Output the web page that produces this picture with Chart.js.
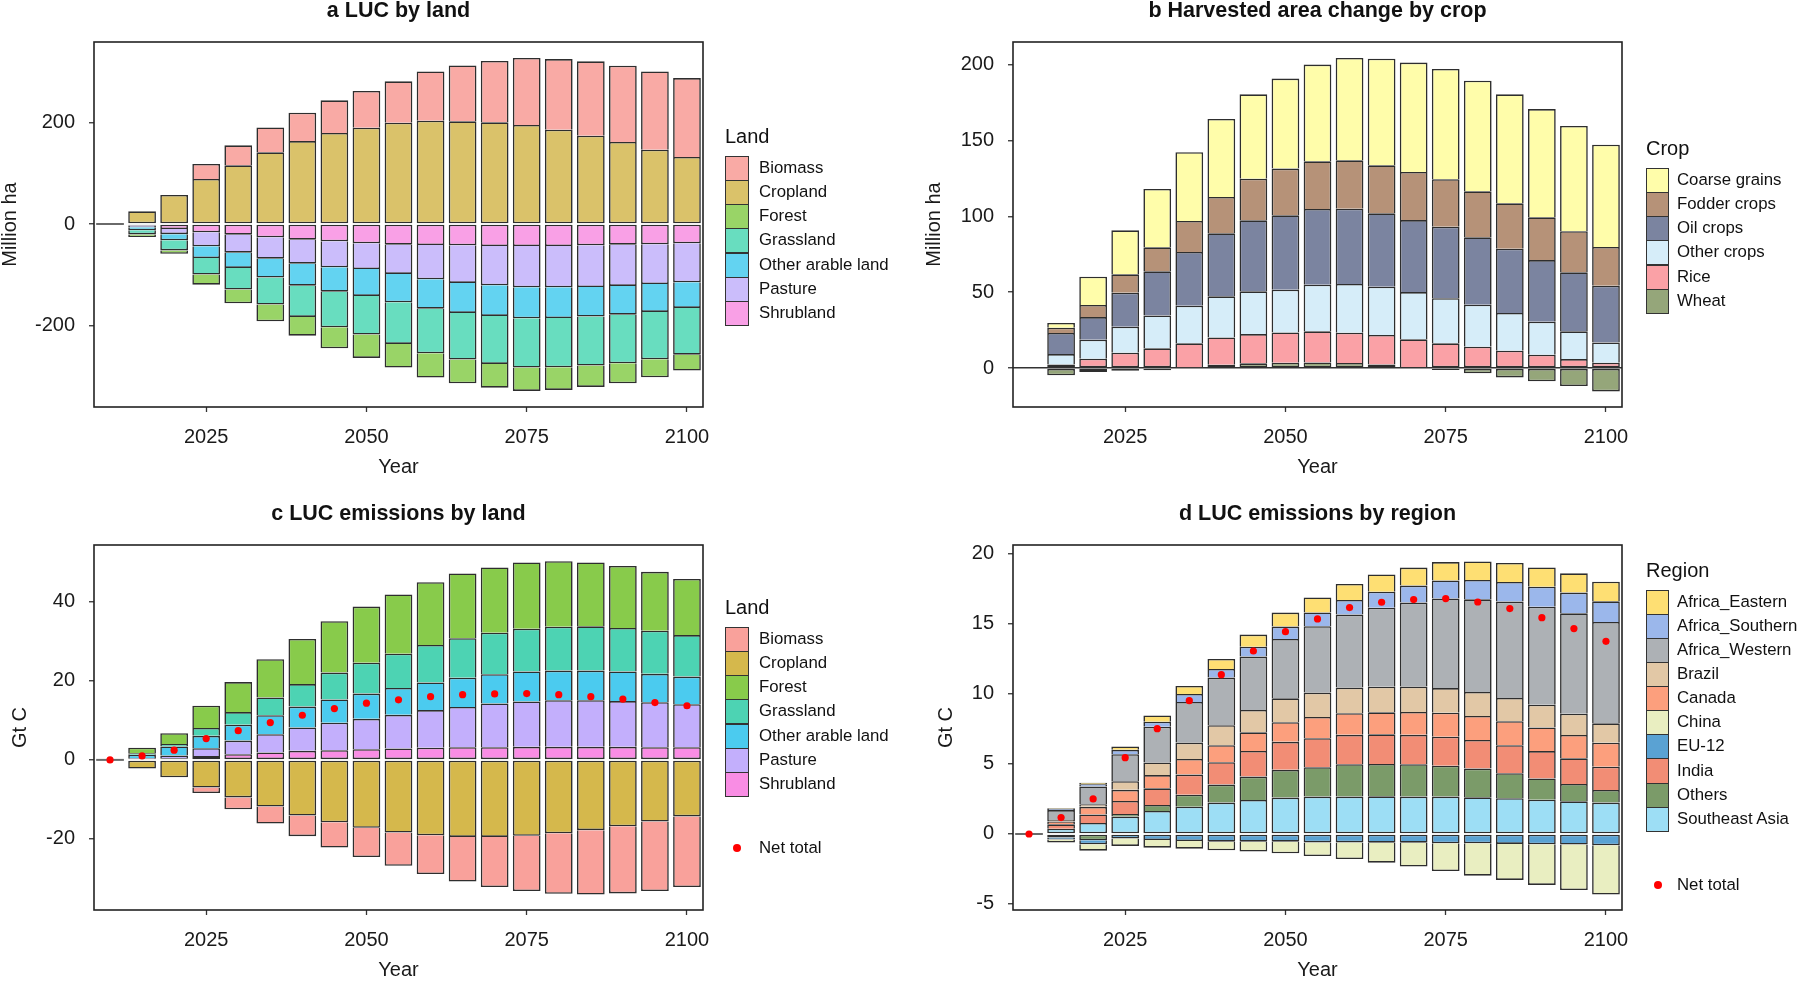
<!DOCTYPE html>
<html>
<head>
<meta charset="utf-8">
<script src="https://cdn.jsdelivr.net/npm/chart.js@4.4.1/dist/chart.umd.min.js"></script>
<style>
  body { margin: 0; background: #fff; width: 1800px; height: 981px; overflow: hidden; position: relative;
         font-family: "Liberation Sans", Arial, sans-serif; color: #111; }
  canvas { position: absolute; }
  .ttl { position: absolute; font-weight: bold; font-size: 21.5px; line-height: 1; white-space: nowrap; transform: translate(-50%, -50%); }
  .lt { position: absolute; font-size: 20px; line-height: 1; transform: translateY(-50%); }
  .lbox { position: absolute; box-sizing: border-box; border: 1.3px solid #333; }
  .llab { position: absolute; font-size: 16.8px; line-height: 1; white-space: nowrap; transform: translateY(-50%); }
  .ldot { position: absolute; width: 8px; height: 8px; border-radius: 50%; background: #ff0000; transform: translate(-50%, -50%); }
</style>
</head>
<body>
<script>
// ---- data ----
const years = [2010, 2015, 2020, 2025, 2030, 2035, 2040, 2045, 2050, 2055, 2060, 2065, 2070, 2075, 2080, 2085, 2090, 2095, 2100];
const xTickYears = [2025, 2050, 2075, 2100];

// a  LUC by land (Million ha)
const aBiomass     = [null, 0, 0, 29.5, 39.3, 49, 55.8, 64.2, 72.2, 81.3, 97, 110.1, 120.6, 131.8, 139, 146.2, 150.1, 154, 155.3];
const aCropland    = [null, 25, 57, 88.5, 115.4, 141, 163.2, 179, 189.4, 199.3, 203.2, 201.9, 200, 194.7, 185.5, 173.7, 161.3, 146.2, 131.8];
const aForest      = [null, -5, -6.5, -19.7, -26.9, -32.8, -36.7, -41.3, -45.9, -46.5, -47.9, -46.5, -46.6, -45.9, -44.6, -42, -39.3, -35.4, -31.4];
const aGrassland   = [null, -8, -20, -32.7, -42.6, -53.1, -61.6, -70.1, -76, -82, -87.8, -91.8, -94.4, -97, -97, -96.4, -95.7, -93.1, -91.8];
const aOtherArable = [null, -6, -12, -23, -30.1, -37.3, -43.3, -47.9, -53.1, -55.7, -57.7, -59, -60.3, -61, -60.4, -58.3, -56.4, -55, -50.5];
const aPasture     = [null, -3.5, -10, -27.5, -35.4, -42, -47.2, -51.1, -50.5, -57.7, -67.5, -74, -77.3, -81.2, -81.2, -81.9, -81.3, -78, -76.7];
const aShrubland   = [null, -3, -10, -16.4, -21, -26.2, -30.8, -34.1, -38, -40.6, -41.3, -42, -43.3, -43.3, -43.3, -42, -40.6, -40, -38];
const aTicks = [-200, 0, 200];

// b  Harvested area change by crop (Million ha)
const bCoarse = [null, 3.1, 18.6, 29, 38.5, 45.3, 51.5, 55.6, 59.4, 63.8, 67.5, 70.3, 72.1, 72.7, 73, 71.9, 71.4, 69.4, 67.5];
const bFodder = [null, 3.5, 8, 12.1, 15.8, 20.5, 24, 27.5, 30.8, 31.4, 31.9, 31.7, 31.7, 31.3, 30.3, 29.9, 28.2, 27.1, 25.5];
const bOil    = [null, 13.9, 14.9, 22.4, 29.1, 35.4, 41.5, 46.8, 49, 49.9, 49.7, 48.4, 47.5, 47.2, 44.4, 42.4, 40.6, 38.9, 37.4];
const bOther  = [null, 6.8, 12.5, 17.2, 21.7, 24.8, 27.1, 28.2, 28.2, 30.8, 32.1, 31.8, 31.2, 29.7, 27.7, 24.9, 21.8, 18.3, 13.4];
const bRice   = [null, 2.4, 6.2, 10.1, 13, 15.8, 18, 19.3, 20, 20.5, 20, 19.4, 18.2, 16.3, 14.1, 11.4, 8.8, 5.9, 3.5];
const bWheat  = [null, -4.8, -2.6, -1.8, -1.5, 0.5, 2.2, 3.1, 3.5, 3.7, 3.3, 2.4, 0.7, -1.3, -3.5, -6.2, -8.8, -11.9, -15.4];
const bTicks = [0, 50, 100, 150, 200];

// c  LUC emissions by land (Gt C)
const cBiomass     = [null, 0, 0, -1.4, -3, -4.3, -5.2, -6.4, -7.4, -8.4, -9.8, -11.3, -12.7, -14, -15.3, -16.3, -17, -17.6, -17.9];
const cCropland    = [null, -2.2, -4.4, -7, -9.5, -11.8, -14.1, -15.8, -17.2, -18.4, -19.1, -19.5, -19.5, -19.2, -18.6, -17.8, -16.8, -15.6, -14.3];
const cForest      = [null, 1.4, 2.7, 5.6, 7.6, 9.7, 11.4, 13, 14.2, 15, 15.9, 16.4, 16.5, 16.8, 16.6, 16.2, 15.7, 14.9, 14.2];
const cGrassland   = [null, 0.4, 0.65, 2, 3.2, 4.5, 5.7, 6.8, 7.8, 8.7, 9.5, 10, 10.5, 10.8, 11.1, 11.2, 11, 10.9, 10.5];
const cOtherArable = [null, 0.9, 2.3, 3.15, 4, 4.8, 5.3, 5.9, 6.4, 6.8, 7, 7.4, 7.4, 7.6, 7.5, 7.5, 7.5, 7.2, 7];
const cPasture     = [null, 0.2, 0.7, 1.95, 3.45, 4.6, 5.9, 6.95, 7.7, 8.5, 9.5, 10.2, 11.1, 11.5, 11.8, 11.8, 11.6, 11.4, 10.9];
const cShrubland   = [null, 0.2, 0.4, 1, 1.45, 1.9, 2.3, 2.45, 2.7, 2.9, 3.1, 3.2, 3.2, 3.3, 3.3, 3.3, 3.3, 3.2, 3.2];
const cNet         = [0, 1, 2.45, 5.4, 7.4, 9.45, 11.3, 13, 14.35, 15.2, 16, 16.5, 16.7, 16.8, 16.5, 16, 15.4, 14.5, 13.7];
const cTicks = [-20, 0, 20, 40];

// d  LUC emissions by region (Gt C)
const dAfricaEastern  = [null, 0.05, 0.1, 0.24, 0.45, 0.57, 0.71, 0.86, 1, 1.07, 1.14, 1.24, 1.29, 1.31, 1.33, 1.36, 1.38, 1.38, 1.4];
const dAfricaSouthern = [null, 0.07, 0.17, 0.31, 0.36, 0.57, 0.62, 0.71, 0.88, 0.98, 1.05, 1.14, 1.21, 1.29, 1.38, 1.4, 1.43, 1.48, 1.48];
const dAfricaWestern  = [null, 0.71, 1.26, 1.93, 2.55, 2.9, 3.4, 3.81, 4.24, 4.74, 5.21, 5.64, 6, 6.4, 6.62, 6.88, 7, 7.17, 7.24];
const dBrazil         = [null, 0.1, 0.19, 0.62, 0.9, 1.17, 1.43, 1.6, 1.71, 1.74, 1.83, 1.83, 1.81, 1.76, 1.71, 1.67, 1.62, 1.52, 1.38];
const dCanada         = [null, 0.21, 0.55, 0.79, 0.95, 1.12, 1.21, 1.33, 1.4, 1.52, 1.55, 1.57, 1.64, 1.71, 1.71, 1.71, 1.69, 1.67, 1.71];
const dChina          = [null, -0.21, -0.45, -0.52, -0.55, -0.55, -0.62, -0.71, -0.83, -0.98, -1.19, -1.43, -1.71, -1.98, -2.31, -2.57, -2.9, -3.24, -3.52];
const dEU12           = [null, -0.14, -0.29, -0.33, -0.43, -0.5, -0.55, -0.55, -0.55, -0.6, -0.6, -0.62, -0.62, -0.67, -0.67, -0.71, -0.74, -0.76, -0.81];
const dIndia          = [null, 0.31, 0.6, 0.93, 1.19, 1.43, 1.6, 1.83, 2, 2.07, 2.1, 2.12, 2.1, 2.07, 2.05, 2, 1.95, 1.83, 1.67];
const dOthers         = [null, -0.26, -0.45, 0.19, 0.43, 0.86, 1.29, 1.67, 1.98, 2.1, 2.31, 2.31, 2.31, 2.21, 2.05, 1.79, 1.52, 1.24, 0.9];
const dSoutheastAsia  = [null, 0.38, 0.79, 1.24, 1.64, 1.95, 2.24, 2.43, 2.6, 2.67, 2.67, 2.69, 2.67, 2.67, 2.62, 2.55, 2.45, 2.33, 2.24];
const dNet            = [0, 1.17, 2.5, 5.45, 7.52, 9.52, 11.38, 13.07, 14.45, 15.36, 16.17, 16.55, 16.74, 16.81, 16.57, 16.1, 15.45, 14.67, 13.76];
const dTicks = [-5, 0, 5, 10, 15, 20];

// zero-height bar at 2010 (drawn as a short segment)
const base2010 = [0, null, null, null, null, null, null, null, null, null, null, null, null, null, null, null, null, null, null];

const landNames = ['Biomass', 'Cropland', 'Forest', 'Grassland', 'Other arable land', 'Pasture', 'Shrubland'];
const cropNames = ['Coarse grains', 'Fodder crops', 'Oil crops', 'Other crops', 'Rice', 'Wheat'];
const regionNames = ['Africa_Eastern', 'Africa_Southern', 'Africa_Western', 'Brazil', 'Canada', 'China', 'EU-12', 'India', 'Others', 'Southeast Asia'];

// ---- drawing ----
const FONT = '"Liberation Sans", Arial, sans-serif';
const INK = '#1a1a1a';

const plotBox = {
  id: 'plotBox',
  afterDraw(chart) {
    const { ctx, chartArea: a } = chart;
    ctx.save();
    ctx.strokeStyle = '#222';
    ctx.lineWidth = 1.6;
    ctx.strokeRect(a.left, a.top, a.right - a.left, a.bottom - a.top);
    ctx.restore();
  }
};

// only the segment touching zero keeps its base edge; the rest rely on the
// neighbour's far edge so separators are a single line
function skipBase(c) {
  const i = c.dataIndex, v = c.dataset.data[i];
  const ds = c.chart.data.datasets;
  for (let j = 0; j < c.datasetIndex; j++) {
    const w = ds[j].data[i];
    if (ds[j].stack === 's' && w && Math.sign(w) === Math.sign(v)) return 'start';
  }
  return false;
}

function makeChart(p) {
  const cv = document.createElement('canvas');
  cv.width = p.w; cv.height = p.h;
  cv.style.left = p.x + 'px'; cv.style.top = p.y + 'px';
  document.body.appendChild(cv);

  const datasets = [];
  // last legend entry sits next to zero, so stack in reverse legend order
  for (let i = p.names.length - 1; i >= 0; i--) {
    datasets.push({
      label: p.names[i], data: p.values[i], backgroundColor: p.colors[i],
      borderColor: '#2e2e2e', borderWidth: 1.6, borderSkipped: skipBase,
      stack: 's', barPercentage: 0.865, categoryPercentage: 1
    });
  }
  if (p.base) {
    datasets.push({ label: 'base', data: p.base, backgroundColor: '#6a6a6a', borderWidth: 0,
      minBarLength: 2, stack: 's', barPercentage: 0.865, categoryPercentage: 1 });
  }
  if (p.net) {
    datasets.push({ type: 'line', label: 'Net total', data: p.net, showLine: false, stack: 'net', order: -1,
      pointRadius: 3.6, pointBackgroundColor: '#ff0000', pointBorderWidth: 0, pointHoverRadius: 3.6 });
  }

  new Chart(cv, {
    type: 'bar',
    data: { labels: years, datasets },
    options: {
      responsive: false, animation: false,
      layout: { padding: { top: p.padTop, right: p.w - p.plotRight, left: 0, bottom: 0 } },
      plugins: { legend: { display: false }, tooltip: { enabled: false } },
      scales: {
        x: {
          stacked: true, offset: true,
          grid: { offset: false, drawOnChartArea: false, tickLength: 5, tickWidth: 1.3,
                  color: c => xTickYears.includes(years[c.index]) ? '#333' : 'rgba(0,0,0,0)' },
          border: { display: false },
          ticks: { autoSkip: false, maxRotation: 0, padding: 13, color: INK, font: { family: FONT, size: 20 },
                   callback: (v, i) => xTickYears.includes(years[i]) ? String(years[i]) : '' },
          title: { display: true, text: 'Year', color: INK, font: { family: FONT, size: 20, lineHeight: 1 },
                   padding: { top: 0, bottom: p.xTitlePad } },
          afterFit: s => { s.height = p.xAxisH; s.paddingLeft = 0; s.paddingRight = 0; }
        },
        y: {
          stacked: true, min: p.yMin, max: p.yMax,
          grid: { drawOnChartArea: !!p.zeroLine, tickLength: 5, tickWidth: 1.3, lineWidth: 1.5, tickColor: '#333',
                  color: c => (p.zeroLine && c.tick && c.tick.value === 0) ? '#333' : 'rgba(0,0,0,0)' },
          border: { display: false },
          ticks: { padding: 14, color: INK, font: { family: FONT, size: 20 }, callback: v => String(v) },
          afterBuildTicks: s => { s.ticks = p.yTicks.map(v => ({ value: v })); },
          title: { display: true, text: p.yTitle, color: INK, font: { family: FONT, size: 20, lineHeight: 1 },
                   padding: { top: p.yTitlePad, bottom: 0 } },
          afterFit: s => { s.width = 94; s.paddingTop = 0; s.paddingBottom = 0; }
        }
      }
    },
    plugins: [plotBox]
  });
}

function addText(cls, txt, x, y) {
  const d = document.createElement('div');
  d.className = cls; d.textContent = txt;
  d.style.left = x + 'px'; d.style.top = y + 'px';
  document.body.appendChild(d);
  return d;
}

function addLegend(l) {
  addText('lt', l.title, l.x, l.titleY);
  l.names.forEach((n, i) => {
    const b = document.createElement('div');
    b.className = 'lbox';
    b.style.left = l.x + 'px'; b.style.top = (l.top + i * l.step) + 'px';
    b.style.width = l.bw + 'px'; b.style.height = (l.step + 1) + 'px';
    b.style.background = l.colors[i];
    document.body.appendChild(b);
    addText('llab', n, l.labX, l.top + i * l.step + l.step / 2);
  });
  if (l.netY) {
    const d = document.createElement('div');
    d.className = 'ldot';
    d.style.left = (l.x + l.bw / 2) + 'px'; d.style.top = l.netY + 'px';
    document.body.appendChild(d);
    addText('llab', 'Net total', l.labX, l.netY);
  }
}

const landColsA = ['#F9AAA5', '#DAC26A', '#99D467', '#68DDBF', '#63D3F1', '#CBBDFB', '#F9A0E6'];
const cropCols = ['#FFFDAA', '#B69278', '#7B84A0', '#D6EDF9', '#FAA1A6', '#95A67A'];
const landColsC = ['#F9A19B', '#D5B84C', '#88CB4B', '#4DD3B3', '#4BCBEF', '#C3AFFC', '#F98DE4'];
const regionCols = ['#FEDF73', '#9BB7EB', '#ADB1B5', '#E2C8A6', '#FC9F7D', '#E9EEC1', '#5AA2D3', '#F28D75', '#7B9B69', '#9DDEF5'];

// panel a
makeChart({ x: 0, y: 0, w: 730, h: 490, plotRight: 703, padTop: 42, xAxisH: 83, xTitlePad: 13, yTitlePad: 0,
  yMin: -360, yMax: 358, yTicks: aTicks, yTitle: 'Million ha', base: base2010,
  names: landNames, colors: landColsA,
  values: [aBiomass, aCropland, aForest, aGrassland, aOtherArable, aPasture, aShrubland] });
addText('ttl', 'a LUC by land', 398.5, 11);
addLegend({ title: 'Land', x: 725, titleY: 136, top: 155.7, step: 24.2, bw: 24, labX: 759, names: landNames, colors: landColsA });

// panel b
makeChart({ x: 919, y: 0, w: 730, h: 490, plotRight: 703, padTop: 42, xAxisH: 83, xTitlePad: 13, yTitlePad: 5,
  yMin: -25.7, yMax: 215, yTicks: bTicks, yTitle: 'Million ha', zeroLine: true,
  names: cropNames, colors: cropCols,
  values: [bCoarse, bFodder, bOil, bOther, bRice, bWheat] });
addText('ttl', 'b Harvested area change by crop', 1317.5, 11);
addLegend({ title: 'Crop', x: 1646, titleY: 148, top: 167.7, step: 24.2, bw: 23, labX: 1677, names: cropNames, colors: cropCols });

// panel c
makeChart({ x: 0, y: 490, w: 730, h: 491, plotRight: 703, padTop: 55, xAxisH: 71, xTitlePad: 1, yTitlePad: 10,
  yMin: -38, yMax: 54.4, yTicks: cTicks, yTitle: 'Gt C', base: base2010, net: cNet,
  names: landNames, colors: landColsC,
  values: [cBiomass, cCropland, cForest, cGrassland, cOtherArable, cPasture, cShrubland] });
addText('ttl', 'c LUC emissions by land', 398.5, 514);
addLegend({ title: 'Land', x: 725, titleY: 606.7, top: 626.7, step: 24.2, bw: 24, labX: 759, names: landNames, colors: landColsC, netY: 848.3 });

// panel d
makeChart({ x: 919, y: 490, w: 730, h: 491, plotRight: 703, padTop: 55, xAxisH: 71, xTitlePad: 1, yTitlePad: 17,
  yMin: -5.43, yMax: 20.64, yTicks: dTicks, yTitle: 'Gt C', base: base2010, net: dNet,
  names: regionNames, colors: regionCols,
  values: [dAfricaEastern, dAfricaSouthern, dAfricaWestern, dBrazil, dCanada, dChina, dEU12, dIndia, dOthers, dSoutheastAsia] });
addText('ttl', 'd LUC emissions by region', 1317.5, 514);
addLegend({ title: 'Region', x: 1646, titleY: 570, top: 590, step: 24.07, bw: 23, labX: 1677, names: regionNames, colors: regionCols, netY: 885 });
</script>
</body>
</html>
